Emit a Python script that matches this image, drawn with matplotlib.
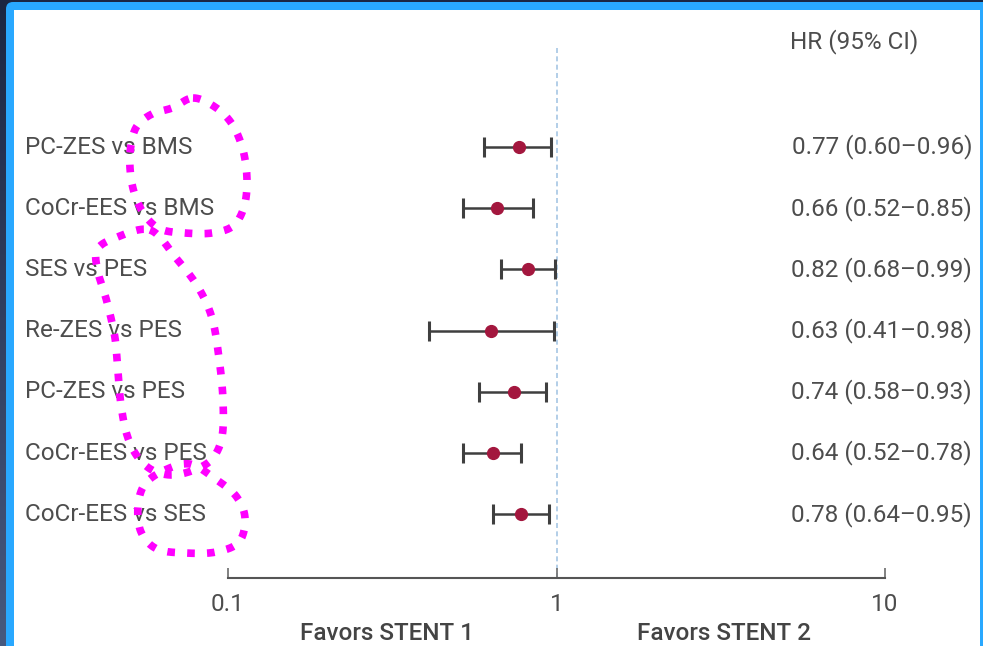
import numpy as np
import matplotlib
matplotlib.use("Agg")
import matplotlib.pyplot as plt
from matplotlib.patches import FancyBboxPatch, Rectangle

# hazard ratios with 95% confidence intervals
comparisons = [
    "PC-ZES vs BMS",
    "CoCr-EES vs BMS",
    "SES vs PES",
    "Re-ZES vs PES",
    "PC-ZES vs PES",
    "CoCr-EES vs PES",
    "CoCr-EES vs SES",
]
hr = [0.77, 0.66, 0.82, 0.63, 0.74, 0.64, 0.78]
ci_low = [0.60, 0.52, 0.68, 0.41, 0.58, 0.52, 0.64]
ci_high = [0.96, 0.85, 0.99, 0.98, 0.93, 0.78, 0.95]
x_ticks = [0.1, 1, 10]
x_ticklabels = ["0.1", "1", "10"]

# hand-drawn highlight loops (pixel coordinates on the page)
loop_a = [(193, 98), (215, 107), (232, 124), (243, 150), (247, 180), (244, 207),
          (233, 226), (212, 233), (185, 233), (160, 229), (144, 214), (134, 192),
          (130, 168), (131, 145), (137, 126), (152, 114), (172, 108)]
loop_b = [(150, 230), (176, 258), (198, 287), (212, 318), (219, 358), (223, 400),
          (222, 437), (212, 459), (194, 470), (172, 475), (152, 470), (137, 456),
          (127, 435), (121, 405), (118, 372), (115, 338), (107, 302), (98, 272),
          (97, 250), (115, 238)]
loop_c = [(165, 470), (190, 464), (214, 478), (236, 496), (245, 518), (239, 542),
          (216, 552), (186, 553), (157, 549), (141, 532), (138, 506), (145, 484)]

W, H, DPI = 983, 646, 100
TEXT = "#4d4d4d"
FONT = ["Roboto", "DejaVu Sans"]
FS = 17.5


def smooth_loop(pts, n=20):
    # closed Catmull-Rom spline through the points
    p = np.array(pts, dtype=float)
    out = []
    k = len(p)
    for i in range(k):
        p0, p1, p2, p3 = p[i - 1], p[i], p[(i + 1) % k], p[(i + 2) % k]
        for t in np.linspace(0, 1, n, endpoint=False):
            t2, t3 = t * t, t * t * t
            out.append(0.5 * ((2 * p1) + (-p0 + p2) * t
                              + (2 * p0 - 5 * p1 + 4 * p2 - p3) * t2
                              + (-p0 + 3 * p1 - 3 * p2 + p3) * t3))
    out.append(out[0])
    return np.array(out)


fig = plt.figure(figsize=(W / DPI, H / DPI), dpi=DPI)

# page background: dark surround, blue frame, white panel
bg = fig.add_axes([0, 0, 1, 1])
bg.set_xlim(0, W)
bg.set_ylim(H, 0)
bg.axis("off")
grad = np.linspace(0, 1, 256)[:, None]
bg.imshow(grad, cmap=matplotlib.colors.LinearSegmentedColormap.from_list(
    "navy", ["#1b2642", "#46597f"]), extent=[0, W, H, 0], aspect="auto", zorder=0)
bg.add_patch(FancyBboxPatch((6, 2), W + 20, H + 20,
                            boxstyle="round,pad=0,rounding_size=7",
                            fc="#29a8ff", ec="none", zorder=1))
bg.add_patch(Rectangle((14, 10), 966, H, fc="white", ec="none", zorder=2))

# forest plot
x0, x1 = 228, 885
y_top, y_axis = 45, 578
row0, row_step = 147, 61.2
n = len(comparisons)
ax = fig.add_axes([x0 / W, 1 - y_axis / H, (x1 - x0) / W, (y_axis - y_top) / H])
ax.patch.set_alpha(0)
ax.set_xscale("log")
ax.set_xlim(0.1, 10)
ax.set_ylim((n - 1) + (y_axis - (row0 + (n - 1) * row_step)) / row_step,
            -(row0 - y_top) / row_step)

ys = np.arange(n)
hr_a = np.array(hr)
err = [hr_a - np.array(ci_low), np.array(ci_high) - hr_a]
ax.axvline(1, color="#a6c6e4", lw=1.2, ls=(0, (3, 2)), zorder=1)
ax.errorbar(hr_a, ys, xerr=err, fmt="none", ecolor="#3f3f3f", elinewidth=1.8,
            capsize=7.5, capthick=2.2, zorder=2)
ax.plot(hr_a, ys, "o", color="#a3173e", ms=8.5, zorder=3)

for y, name, h, lo, hi in zip(ys, comparisons, hr, ci_low, ci_high):
    ax.text((25 - x0) / (x1 - x0), y, name, transform=ax.get_yaxis_transform(),
            ha="left", va="center", fontsize=FS, color=TEXT, family=FONT)
    ax.text((972 - x0) / (x1 - x0), y, f"{h:.2f} ({lo:.2f}\u2013{hi:.2f})",
            transform=ax.get_yaxis_transform(), ha="right", va="center",
            fontsize=FS, color=TEXT, family=FONT)

ax.text((790 - x0) / (x1 - x0), 1 + 3 / (y_axis - y_top), "HR (95% CI)",
        transform=ax.transAxes, ha="left", va="center", fontsize=FS,
        color=TEXT, family=FONT)

for side in ["top", "right", "left"]:
    ax.spines[side].set_visible(False)
ax.spines["bottom"].set_color("#555555")
ax.spines["bottom"].set_linewidth(1.5)
ax.set_yticks([])
ax.set_xticks(x_ticks)
ax.set_xticklabels(x_ticklabels, family=FONT, fontsize=FS, color=TEXT)
ax.xaxis.set_minor_locator(matplotlib.ticker.NullLocator())
ax.tick_params(axis="x", direction="in", length=7.5, width=1.3, color="#777777", pad=11)

ax.text((387 - x0) / (x1 - x0), -(633 - y_axis) / (y_axis - y_top), "Favors STENT 1",
        transform=ax.transAxes, ha="center", va="center", fontsize=FS,
        color="#444444", weight="medium", family=FONT)
ax.text((724 - x0) / (x1 - x0), -(633 - y_axis) / (y_axis - y_top), "Favors STENT 2",
        transform=ax.transAxes, ha="center", va="center", fontsize=FS,
        color="#444444", weight="medium", family=FONT)

# magenta dotted highlight loops on top
over = fig.add_axes([0, 0, 1, 1])
over.set_xlim(0, W)
over.set_ylim(H, 0)
over.axis("off")
over.patch.set_alpha(0)
for loop in [loop_a, loop_b, loop_c]:
    pts = smooth_loop(loop)
    over.plot(pts[:, 0], pts[:, 1], color="#ff00ff", lw=5.5,
              ls=(0, (1, 1.6)), solid_capstyle="butt", dash_capstyle="butt")

fig.savefig("out.png", dpi=DPI)
